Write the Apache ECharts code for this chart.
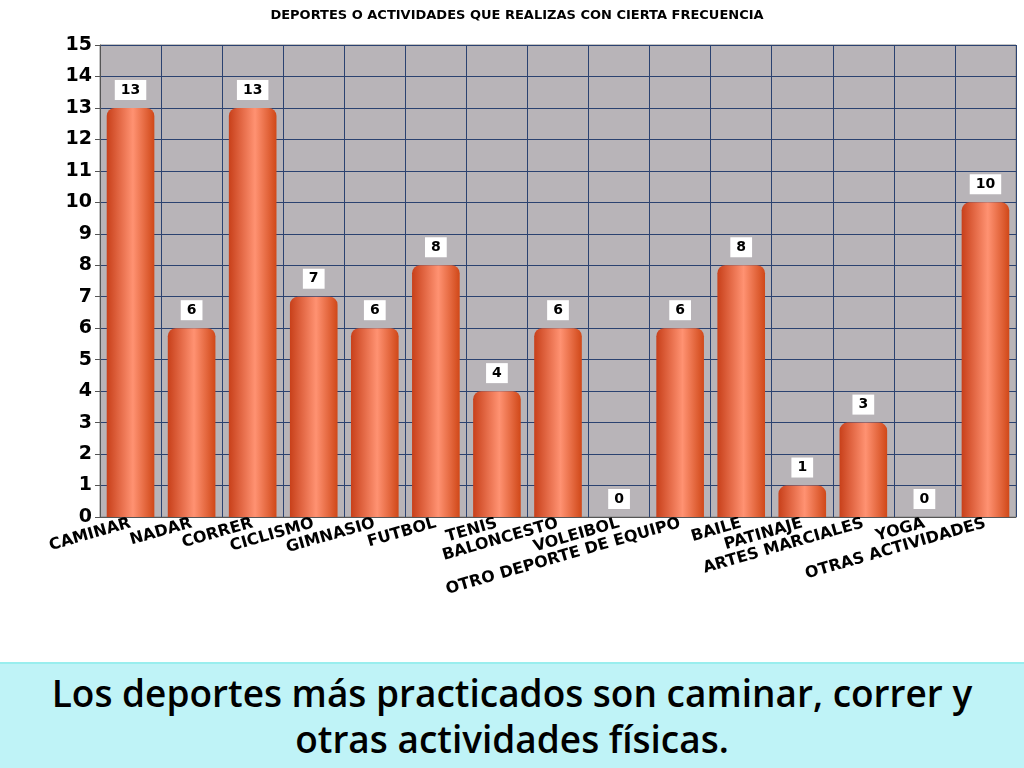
<!DOCTYPE html>
<html><head><meta charset="utf-8">
<script src="https://cdn.jsdelivr.net/npm/echarts@6/dist/echarts.min.js"></script>
<style>html,body{margin:0;padding:0;background:#fff;}#c{width:1024px;height:660px;}
#cap{position:absolute;left:0;top:662px;width:1024px;height:106px;background:#bff3f7;border-top:2px solid #9ee;font-family:"Open Sans","Noto Sans",sans-serif;font-weight:600;font-size:37px;text-align:center;line-height:46px;color:#000;padding-top:6px;box-sizing:border-box;}</style>
</head><body>
<div id="c"></div>
<div id="cap">Los deportes más practicados son caminar, correr y<br>otras actividades físicas.</div>
<script>
const categories = ['CAMINAR','NADAR','CORRER','CICLISMO','GIMNASIO','FUTBOL','TENIS','BALONCESTO','VOLEIBOL','OTRO DEPORTE DE EQUIPO','BAILE','PATINAJE','ARTES MARCIALES','YOGA','OTRAS ACTIVIDADES'];
const values = [13,6,13,7,6,8,4,6,0,6,8,1,3,0,10];
const chart = echarts.init(document.getElementById('c'));
chart.setOption({
  title:{text:'DEPORTES O ACTIVIDADES QUE REALIZAS CON CIERTA FRECUENCIA',left:512,top:4,textAlign:'center',
    textStyle:{fontFamily:'DejaVu Sans',fontWeight:'bold',fontSize:13,color:'#000'}},
  grid:{left:100,right:8,top:45,bottom:143,backgroundColor:'#b8b4b8',show:true,borderColor:'#888',borderWidth:1},
  xAxis:{type:'category',data:categories,
    axisLine:{lineStyle:{color:'#555'}},axisTick:{show:false},
    splitLine:{show:true,lineStyle:{color:'#2b4270',width:1}},
    axisLabel:{interval:0,rotate:16,fontFamily:'DejaVu Sans',fontWeight:'bold',fontSize:16,color:'#000',margin:6}},
  yAxis:{type:'value',min:0,max:15,interval:1,
    axisLine:{show:true,lineStyle:{color:'#555'}},axisTick:{show:true,lineStyle:{color:'#555'}},
    splitLine:{lineStyle:{color:'#2b4270',width:1}},
    axisLabel:{fontFamily:'DejaVu Sans',fontWeight:'bold',fontSize:19,color:'#000'}},
  series:[{type:'bar',data:values,barWidth:'78%',
    itemStyle:{borderRadius:[8,8,0,0],color:new echarts.graphic.LinearGradient(0,0,1,0,[
      {offset:0,color:'#c8401a'},{offset:0.55,color:'#ff9272'},{offset:1,color:'#d04818'}])},
    label:{show:true,position:'top',distance:8,backgroundColor:'#fff',padding:[3,6],
      fontFamily:'DejaVu Sans',fontWeight:'bold',fontSize:14,color:'#000'}}]
});
</script></body></html>
